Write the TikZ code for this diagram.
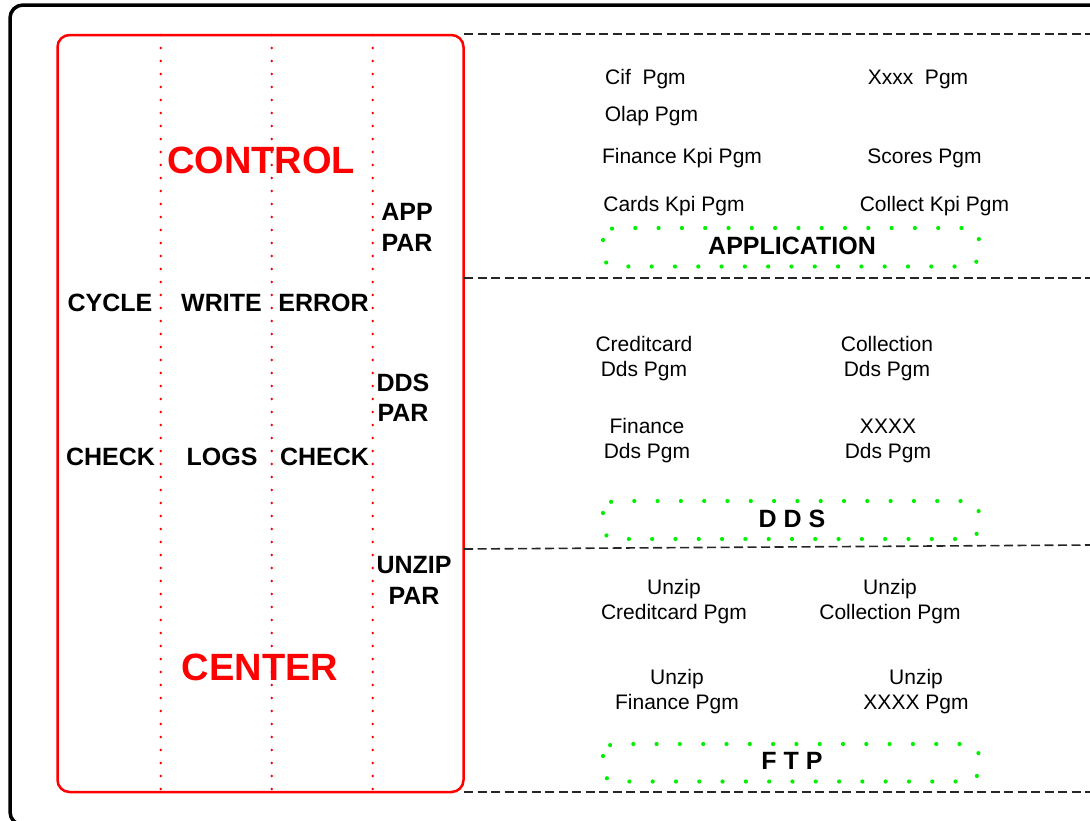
\documentclass[tikz,border=0pt]{standalone}
\usepackage{fontspec}
\setmainfont{Liberation Sans}
\begin{document}
\begin{tikzpicture}[x=1pt, y=-1pt,
  every node/.style={inner sep=0pt, outer sep=0pt},
  pgm/.style={font=\fontsize{21}{24.8}\selectfont, align=center, anchor=base},
  lbl/.style={font=\bfseries\fontsize{25}{30.7}\selectfont, align=center, anchor=base},
  title/.style={font=\bfseries\fontsize{38}{42}\selectfont, text=red, anchor=base},
  sect/.style={font=\bfseries\fontsize{25}{30}\selectfont, anchor=base},
  greenbox/.style={draw={rgb,255:red,0;green,240;blue,0}, line width=4.2pt, rounded corners=12pt,
                   dash pattern=on 0pt off 23.3pt, line cap=round},
  reddots/.style={draw=red, line width=2.8pt, dash pattern=on 0pt off 13pt, line cap=round},
  sep/.style={draw=black!85, line width=1.6pt, dash pattern=on 9pt off 4.5pt},
]
\useasboundingbox (0,0) rectangle (1090,820);
\clip (0,0) rectangle (1090,820);

% outer frame
\draw[line width=3.5pt, rounded corners=13pt] (10,5) rectangle (1110,825);

% control center block
\draw[red, line width=2.5pt, rounded corners=12pt] (57.5,35) rectangle (463.5,792);
\foreach \x in {160.7,271.7,372.7}
  \draw[reddots] (\x,35) -- (\x,792);

% section separators
\draw[sep] (464,34) -- (1090,34);
\draw[sep] (464,278) -- (1090,278);
\draw[sep] (464,549) -- (1090,545);
\draw[sep] (464,792) -- (1090,792);

% section captions frames
\draw[greenbox] (603,228) rectangle (979,266.5);
\draw[greenbox] (603,501) rectangle (979,539);
\draw[greenbox] (603,744) rectangle (979,781.5);

% control center labels (multi-line nodes sit on their last baseline)
\node[title] (control) at (261,173) {CONTROL};
\node[title] (center) at (260,680) {CENTER};
\node[lbl] (cycle) at (110,311.7) {CYCLE};
\node[lbl] (write) at (221.5,311.7) {WRITE};
\node[lbl] (error) at (323.5,311.7) {ERROR};
\node[lbl] (checka) at (110.5,465) {CHECK};
\node[lbl] (logs) at (222,465) {LOGS};
\node[lbl] (checkb) at (324.5,465) {CHECK};
\node[lbl] (apppar) at (407,251.4) {APP\\PAR};
\node[lbl] (ddspar) at (403,421.7) {DDS\\PAR};
\node[lbl] (unzippar) at (414,604) {UNZIP\\PAR};

% application programs
\node[pgm] (cif) at (645.5,84.3) {Cif\ \ Pgm};
\node[pgm] (xxxx) at (918,84.3) {Xxxx\ \ Pgm};
\node[pgm] (olap) at (651.5,121) {Olap Pgm};
\node[pgm] (finkpi) at (682,163.3) {Finance Kpi Pgm};
\node[pgm] (scores) at (924.5,163.3) {Scores Pgm};
\node[pgm] (cardskpi) at (674,211.7) {Cards Kpi Pgm};
\node[pgm] (collkpi) at (934.5,211.7) {Collect Kpi Pgm};
\node[sect] (app) at (792,254.3) {APPLICATION};

% dds programs
\node[pgm] (ccdds) at (644,376) {Creditcard\\Dds Pgm};
\node[pgm] (coldds) at (887,376) {Collection\\Dds Pgm};
\node[pgm] (findds) at (647,458.5) {Finance\\Dds Pgm};
\node[pgm] (xdds) at (888,458.5) {XXXX\\Dds Pgm};
\node[sect] (dds) at (792,527) {D D S};

% ftp programs
\node[pgm] (uzcc) at (674,619.5) {Unzip\\Creditcard Pgm};
\node[pgm] (uzcol) at (890,619.5) {Unzip\\Collection Pgm};
\node[pgm] (uzfin) at (677,709) {Unzip\\Finance Pgm};
\node[pgm] (uzx) at (916,709) {Unzip\\XXXX Pgm};
\node[sect] (ftp) at (792,769) {F T P};
\end{tikzpicture}
\end{document}
